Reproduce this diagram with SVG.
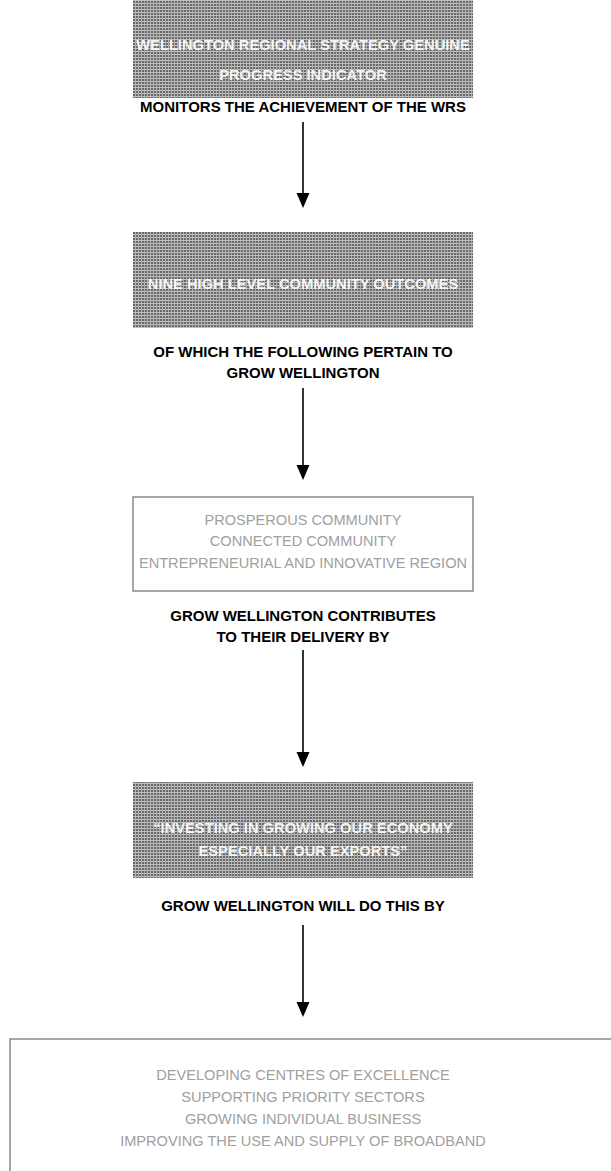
<svg xmlns="http://www.w3.org/2000/svg" width="611" height="1171" viewBox="0 0 611 1171">
  <style>
    .label { font-family: "Liberation Sans", Arial, sans-serif; font-weight: bold; font-size: 15px; fill: #000; text-anchor: middle; }
    .inv { font-family: "Liberation Sans", Arial, sans-serif; font-weight: bold; font-size: 14.7px; fill: #f6f6f6; text-anchor: middle; }
    .soft { font-family: "Liberation Sans", Arial, sans-serif; font-size: 14.6px; fill: #a0a0a0; text-anchor: middle; }
    .screen { fill: url(#halftone); }
    .frame { fill: #fff; stroke: #8a8a8a; stroke-width: 1.5; }
  </style>
  <defs>
    <!-- fine printing screen used on the shaded boxes -->
    <pattern id="halftone" patternUnits="userSpaceOnUse" width="3" height="3">
      <rect width="3" height="3" fill="#6a6a6a"/>
      <rect width="3" height="1" fill="#c4c4c4"/>
      <rect width="1" height="3" fill="#b0b0b0"/>
    </pattern>
  </defs>

  <rect width="611" height="1171" fill="#fff"/>

  <!-- connectors: shaft plus filled head -->
  <g id="connectors">
    <line x1="303" y1="122" x2="303" y2="206" stroke="#000" stroke-width="1.6"/>
    <path d="M296.5,193 L309.5,193 L303,208 Z" fill="#000"/>
    <line x1="303" y1="388" x2="303" y2="478" stroke="#000" stroke-width="1.6"/>
    <path d="M296.5,465 L309.5,465 L303,480 Z" fill="#000"/>
    <line x1="303" y1="650" x2="303" y2="765" stroke="#000" stroke-width="1.6"/>
    <path d="M296.5,752 L309.5,752 L303,767 Z" fill="#000"/>
    <line x1="303" y1="925" x2="303" y2="1015" stroke="#000" stroke-width="1.6"/>
    <path d="M296.5,1002 L309.5,1002 L303,1017 Z" fill="#000"/>
  </g>

  <!-- node 1: regional indicator -->
  <g id="node-gpi">
    <rect class="screen" x="133" y="0" width="340" height="98"/>
    <text class="inv" x="303" y="50">WELLINGTON REGIONAL STRATEGY GENUINE</text>
    <text class="inv" x="303" y="80">PROGRESS INDICATOR</text>
  </g>
  <g id="label-monitors">
    <text class="label" x="303" y="112">MONITORS THE ACHIEVEMENT OF THE WRS</text>
  </g>

  <!-- node 2: community outcomes -->
  <g id="node-outcomes">
    <rect class="screen" x="133" y="232" width="340" height="96"/>
    <text class="inv" x="303" y="289">NINE HIGH LEVEL COMMUNITY OUTCOMES</text>
  </g>
  <g id="label-pertain">
    <text class="label" x="303" y="357">OF WHICH THE FOLLOWING PERTAIN TO</text>
    <text class="label" x="303" y="378">GROW WELLINGTON</text>
  </g>

  <!-- node 3: relevant outcomes -->
  <g id="node-relevant">
    <rect class="frame" x="133" y="497" width="340" height="94"/>
    <text class="soft" x="303" y="525">PROSPEROUS COMMUNITY</text>
    <text class="soft" x="303" y="546">CONNECTED COMMUNITY</text>
    <text class="soft" x="303" y="568">ENTREPRENEURIAL AND INNOVATIVE REGION</text>
  </g>
  <g id="label-contributes">
    <text class="label" x="303" y="621">GROW WELLINGTON CONTRIBUTES</text>
    <text class="label" x="303" y="642">TO THEIR DELIVERY BY</text>
  </g>

  <!-- node 4: investing -->
  <g id="node-investing">
    <rect class="screen" x="133" y="782" width="340" height="96"/>
    <text class="inv" x="303" y="833">“INVESTING IN GROWING OUR ECONOMY</text>
    <text class="inv" x="303" y="856">ESPECIALLY OUR EXPORTS”</text>
  </g>
  <g id="label-will-do">
    <text class="label" x="303" y="911">GROW WELLINGTON WILL DO THIS BY</text>
  </g>

  <!-- node 5: actions (runs past the right and bottom edges) -->
  <g id="node-actions">
    <rect class="frame" x="10" y="1039" width="620" height="160"/>
    <text class="soft" x="303" y="1080">DEVELOPING CENTRES OF EXCELLENCE</text>
    <text class="soft" x="303" y="1102">SUPPORTING PRIORITY SECTORS</text>
    <text class="soft" x="303" y="1124">GROWING INDIVIDUAL BUSINESS</text>
    <text class="soft" x="303" y="1146">IMPROVING THE USE AND SUPPLY OF BROADBAND</text>
  </g>
</svg>
